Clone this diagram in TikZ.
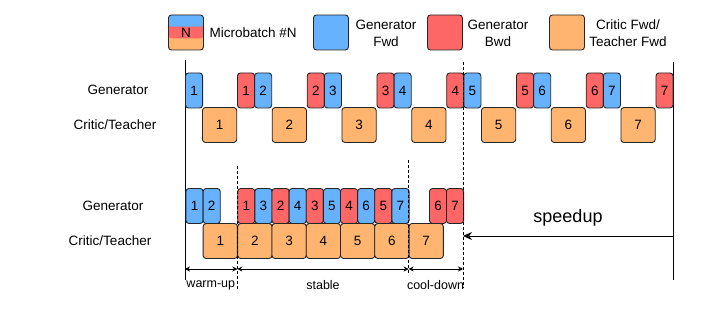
\documentclass[tikz,border=0pt]{standalone}
\usepackage{fontspec}
\setmainfont{Liberation Sans}
\usetikzlibrary{arrows.meta}

\definecolor{GenFwd}{HTML}{66B2FF}
\definecolor{GenBwd}{HTML}{FF6666}
\definecolor{CriticFwd}{HTML}{FFB570}

\begin{document}
\begin{tikzpicture}[
x=1pt, y=-1pt,
cell/.style={draw=black!85, rounded corners=3pt, line width=0.9pt, inner sep=0pt, minimum height=35pt, anchor=west, font=\fontsize{13.5}{15}\selectfont},
fwd/.style={cell, fill=GenFwd, minimum width=17.13pt},
bwd/.style={cell, fill=GenBwd, minimum width=17.13pt},
critic/.style={cell, fill=CriticFwd, minimum width=34.26pt},
keybox/.style={cell, minimum width=35pt},
lbl/.style={font=\fontsize{13.5}{17}\selectfont, align=center},
phase/.style={font=\fontsize{12.5}{14}\selectfont},
span/.style={{Stealth[length=5pt,width=5pt]}-{Stealth[length=5pt,width=5pt]}, line width=0.7pt},
guide/.style={line width=0.9pt, dash pattern=on 3pt off 2pt},
axis/.style={line width=0.9pt}
]
\useasboundingbox (0,0) rectangle (718,312);

% legend
\node[keybox, fill=CriticFwd, path picture={
  \fill[GenBwd] (path picture bounding box.north west) rectangle ([yshift=-23.3pt]path picture bounding box.north east);
  \fill[GenFwd] (path picture bounding box.north west) rectangle ([yshift=-11.7pt]path picture bounding box.north east);
}] (key) at (168,32.5) {N};
\node[lbl, anchor=west] (keytext) at (206,32.5) {Microbatch \#N};
\node[keybox, fill=GenFwd] (keyfwd) at (313,32.5) {};
\node[lbl] (keyfwdtext) at (386,33) {Generator\\Fwd};
\node[keybox, fill=GenBwd] (keybwd) at (427,32.5) {};
\node[lbl] (keybwdtext) at (498,33) {Generator\\Bwd};
\node[keybox, fill=CriticFwd] (keycritic) at (549,32.5) {};
\node[lbl] (keycritictext) at (628,33) {Critic Fwd/\\Teacher Fwd};

% row labels
\node[lbl] (topgen) at (118,90) {Generator};
\node[lbl] (topcritic) at (115,125) {Critic/Teacher};
\node[lbl] (botgen) at (113,206) {Generator};
\node[lbl] (botcritic) at (110,241) {Critic/Teacher};

% time axes
\coordinate (t0) at (185,60);
\coordinate (t0end) at (185,280);
\coordinate (t1) at (673,62);
\coordinate (t1end) at (673,280);
\draw[axis] (t0) -- (t0end);
\draw[axis] (t1) -- (t1end);

% sequential schedule
\node[fwd] (tf1) at (185,90.5) {1};
\foreach \k in {1,...,7} {
  \node[critic] (tc\k) at ({202+69.75*(\k-1)},125) {\k};
  \node[bwd] (tb\k) at ({237+69.75*(\k-1)},90.5) {\k};
}
\foreach \k in {2,...,7}
  \node[fwd] (tf\k) at ({254.13+69.75*(\k-2)},90.5) {\k};

% overlapped schedule
\node[fwd] (bf1) at (185.5,206) {1};
\node[fwd] (bf2) at (202.7,206) {2};
\node[critic] (bc1) at (202.7,241) {1};
\foreach \k [evaluate=\k as \n using int(\k+2), evaluate=\k as \m using int(\k+1)] in {1,...,5} {
  \node[bwd] (bb\k) at ({237.3+34.26*(\k-1)},206) {\k};
  \node[fwd] (bf\n) at ({254.43+34.26*(\k-1)},206) {\n};
  \node[critic] (bc\m) at ({237.3+34.26*(\k-1)},241) {\m};
}
\node[critic] (bc7) at (408.6,241) {7};
\node[bwd] (bb6) at (429,206) {6};
\node[bwd] (bb7) at (446,206) {7};

% phase boundaries
\coordinate (warm) at (237.3,166);
\coordinate (warmend) at (237.3,290);
\coordinate (cool) at (408.6,160);
\coordinate (coolend) at (408.6,275);
\coordinate (done) at (463,62);
\coordinate (doneend) at (463,288);
\draw[guide] (warm) -- (warmend);
\draw[guide] (cool) -- (coolend);
\draw[guide] (done) -- (doneend);

\coordinate (p0) at (185,269);
\coordinate (p1) at (237.3,269);
\coordinate (p2) at (408.6,269);
\coordinate (p3) at (463,269);
\draw[span] (p0) -- (p1);
\draw[span] (p1) -- (p2);
\draw[span] (p2) -- (p3);
\node[phase] (warmlbl) at (210.8,285) {warm-up};
\node[phase] (stablelbl) at (323,285) {stable};
\node[phase] (coollbl) at (435.5,285) {cool-down};

% speedup
\coordinate (sp0) at (673,236);
\coordinate (sp1) at (463,236);
\draw[-{Stealth[length=9pt,width=8pt]}, line width=0.9pt] (sp0) -- (sp1);
\node[font=\fontsize{18}{20}\selectfont] (speedup) at (568,218) {speedup};
\end{tikzpicture}
\end{document}
